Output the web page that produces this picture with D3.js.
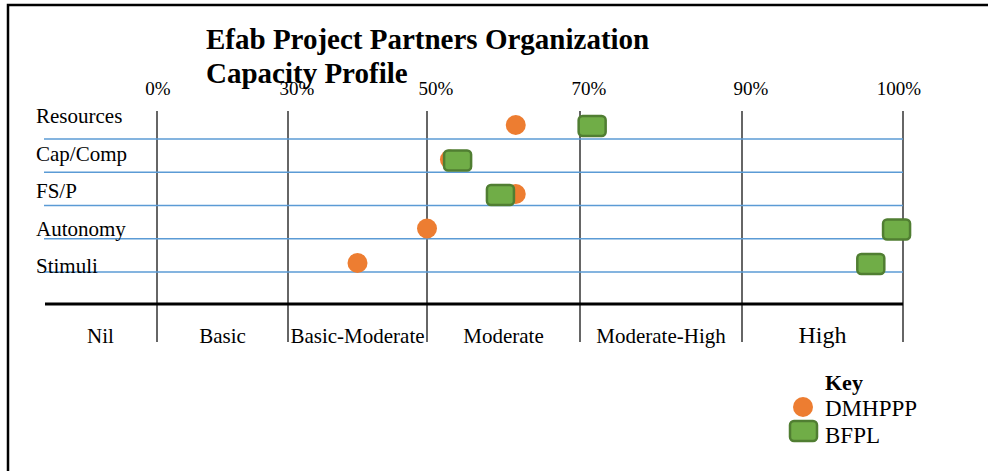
<!DOCTYPE html>
<html>
<head>
<meta charset="utf-8">
<script src="https://cdn.jsdelivr.net/npm/d3@7"></script>
<style>
    body { margin: 0; background: #fff; }
    svg { font-family: "Liberation Serif", "Times New Roman", serif; }
</style>
</head>
<body>
<svg width="988" height="471"></svg>
<script>
// data
var categories = ['Resources', 'Cap/Comp', 'FS/P', 'Autonomy', 'Stimuli'];
var dmhppp = [61.6, 53, 61.6, 50, 40];
var bfpl = [71.5, 54, 59.6, 99.6, 98];
var tickValues = [0, 30, 50, 70, 90, 100];
var tickLabels = ['0%', '30%', '50%', '70%', '90%', '100%'];
var bandLabels = ['Nil', 'Basic', 'Basic-Moderate', 'Moderate', 'Moderate-High', 'High'];
var seriesNames = ['DMHPPP', 'BFPL'];

var svg = d3.select('svg');

var orange = '#ED7D31';
var green = '#70AD47';
var greenDark = '#507E32';
var blue = '#5B9BD5';

// the scale is not even: each tick sits at its own spot on the page
var axisLeft = 44;
var x = d3.scaleLinear()
    .domain(tickValues)
    .range([157, 288, 427, 580, 742, 903]);

// rows: labels, lines and markers are spaced a bit differently
var yLabel = d3.scalePoint().domain(categories).range([116, 266]);
var yLine = d3.scalePoint().domain(categories).range([139, 272]);
var yMark = d3.scalePoint().domain(categories).range([125, 263]);

var baseY = 304;
var gridTop = 111, gridBottom = 342;

// frame
svg.append('rect')
    .attr('x', 8).attr('y', 5)
    .attr('width', 1000).attr('height', 500)
    .attr('fill', 'none')
    .attr('stroke', '#000')
    .attr('stroke-width', 2.5);

// title
var title = svg.append('text')
    .attr('x', 206)
    .attr('font-size', 29)
    .attr('font-weight', 700);
title.append('tspan').attr('x', 206).attr('y', 49).text('Efab Project Partners Organization');
title.append('tspan').attr('x', 206).attr('y', 83).text('Capacity Profile');

// vertical tick lines
svg.selectAll('.vline')
    .data(tickValues)
    .enter()
    .append('line')
    .attr('class', 'vline')
    .attr('x1', function(d) { return x(d); })
    .attr('x2', function(d) { return x(d); })
    .attr('y1', gridTop)
    .attr('y2', gridBottom)
    .attr('stroke', '#333')
    .attr('stroke-width', 1.5);

// tick labels on top (inner ones sit a little right of their line)
svg.selectAll('.tlabel')
    .data(tickValues)
    .enter()
    .append('text')
    .attr('class', 'tlabel')
    .attr('x', function(d, i) {
        var off = i == 0 ? 1 : (i == tickValues.length - 1 ? -4 : 9);
        return x(d) + off;
    })
    .attr('y', 95)
    .attr('text-anchor', 'middle')
    .attr('font-size', 19)
    .text(function(d, i) { return tickLabels[i]; });

// blue row lines
svg.selectAll('.rowline')
    .data(categories)
    .enter()
    .append('line')
    .attr('class', 'rowline')
    .attr('x1', axisLeft)
    .attr('x2', x(100))
    .attr('y1', function(d) { return yLine(d); })
    .attr('y2', function(d) { return yLine(d); })
    .attr('stroke', blue)
    .attr('stroke-width', 1.5);

// row labels
svg.selectAll('.rowlabel')
    .data(categories)
    .enter()
    .append('text')
    .attr('class', 'rowlabel')
    .attr('x', 36)
    .attr('y', function(d) { return yLabel(d); })
    .attr('dy', '0.35em')
    .attr('font-size', 21)
    .text(function(d) { return d; });

// thick base line
svg.append('line')
    .attr('x1', axisLeft + 1)
    .attr('x2', x(100))
    .attr('y1', baseY)
    .attr('y2', baseY)
    .attr('stroke', '#000')
    .attr('stroke-width', 3);

// band labels under the base line
var bandEdges = [axisLeft].concat(tickValues.map(function(d) { return x(d); }));
svg.selectAll('.blabel')
    .data(bandLabels)
    .enter()
    .append('text')
    .attr('class', 'blabel')
    .attr('x', function(d, i) { return (bandEdges[i] + bandEdges[i + 1]) / 2; })
    .attr('y', 343)
    .attr('text-anchor', 'middle')
    .attr('font-size', function(d, i) { return i == bandLabels.length - 1 ? 24 : 21; })
    .text(function(d) { return d; });

// DMHPPP circles
svg.selectAll('.dot')
    .data(dmhppp)
    .enter()
    .append('circle')
    .attr('class', 'dot')
    .attr('cx', function(d) { return x(d); })
    .attr('cy', function(d, i) { return yMark(categories[i]); })
    .attr('r', 10)
    .attr('fill', orange);

// BFPL rounded boxes (drawn over the circles)
var bw = 27, bh = 20;
svg.selectAll('.box')
    .data(bfpl)
    .enter()
    .append('rect')
    .attr('class', 'box')
    .attr('x', function(d) { return x(d) - bw / 2; })
    .attr('y', function(d, i) { return yMark(categories[i]) - bh / 2 + 1; })
    .attr('width', bw)
    .attr('height', bh)
    .attr('rx', 4)
    .attr('fill', green)
    .attr('stroke', greenDark)
    .attr('stroke-width', 2.5);

// key
var key = svg.append('g').attr('transform', 'translate(825, 390)');
key.append('text')
    .attr('font-size', 22)
    .attr('font-weight', 700)
    .text('Key');
key.append('circle')
    .attr('cx', -22).attr('cy', 17).attr('r', 10)
    .attr('fill', orange);
key.append('rect')
    .attr('x', -35).attr('y', 31)
    .attr('width', bw).attr('height', bh)
    .attr('rx', 4)
    .attr('fill', green)
    .attr('stroke', greenDark)
    .attr('stroke-width', 2.5);
key.selectAll('.ktext')
    .data(seriesNames)
    .enter()
    .append('text')
    .attr('class', 'ktext')
    .attr('x', 0)
    .attr('y', function(d, i) { return 26 + i * 27; })
    .attr('font-size', 23)
    .text(function(d) { return d; });
</script>
</body>
</html>
